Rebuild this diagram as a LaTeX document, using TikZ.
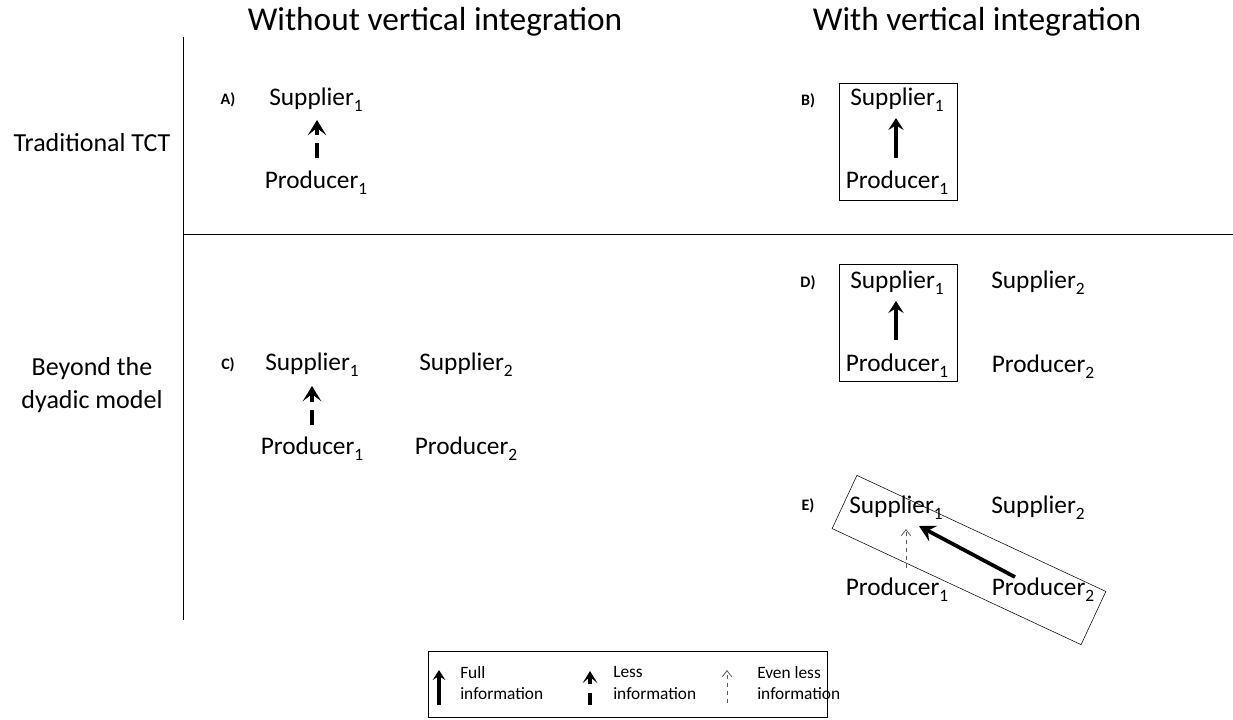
\documentclass[tikz,border=0pt]{standalone}
\usepackage{fontspec}
\setmainfont{Carlito}
\usetikzlibrary{arrows.meta,calc}
\newcommand{\sub}[1]{\raisebox{-4.5pt}{\fontsize{13}{13}\selectfont #1}}

\tikzset{
  lbl/.style={font=\fontsize{19}{23}\selectfont,inner sep=0pt},
  head/.style={font=\fontsize{25}{29}\selectfont,inner sep=0pt},
  side/.style={font=\fontsize{19.5}{25}\selectfont,inner sep=0pt,align=center},
  tag/.style={font=\bfseries\fontsize{12}{14}\selectfont,inner sep=0pt},
  leg/.style={font=\fontsize{13}{16}\selectfont,inner sep=0pt,align=left,anchor=west},
  full/.style={line width=2.4pt,-{Stealth[length=9pt,width=11.5pt,inset=3.5pt]}},
  less/.style={line width=3.2pt,dash pattern=on 11.25pt off 6pt,-{Stealth[length=11.5pt,width=14pt,inset=5.5pt]}},
  evenless/.style={line width=0.6pt,dashed,gray!70!black,-{Straight Barb[length=4.5pt,width=7pt,line width=0.6pt]}},
  strong/.style={line width=2.8pt,-{Stealth[length=12pt,width=13pt,inset=4.5pt]}},
}

\begin{document}
\begin{tikzpicture}[x=0.75pt,y=-0.75pt]
  \useasboundingbox (0,0) rectangle (1233,719);

  % column and row headings
  \node[head] (without) at (435,22) {Without vertical integration};
  \node[head] (with) at (977,22) {With vertical integration};
  \node[side] (tct) at (92,143) {Traditional TCT};
  \node[side] (dyadic) at (92,385) {Beyond the\\dyadic model};
  \draw (183,37) -- (183,620);
  \draw (183,234) -- (1233,234);

  % A) market exchange
  \node[tag] (tagA) at (228,100) {A)};
  \node[lbl] (as1) at (316,100) {Supplier\sub{1}};
  \node[lbl] (ap1) at (316,183) {Producer\sub{1}};
  \draw[less] ($(ap1.center)+(1,-25)$) -- ($(as1.center)+(1,20)$);

  % B) integrated dyad
  \node[tag] (tagB) at (808,101) {B)};
  \node[lbl] (bs1) at (897,100) {Supplier\sub{1}};
  \node[lbl] (bp1) at (897,183) {Producer\sub{1}};
  \draw[full] ($(bp1.center)+(-1,-25)$) -- ($(bs1.center)+(-1,18)$);
  \draw (839,83) rectangle (957,200);

  % C) two dyads, no integration
  \node[tag] (tagC) at (228,365) {C)};
  \node[lbl] (cs1) at (312,365) {Supplier\sub{1}};
  \node[lbl] (cp1) at (312,449) {Producer\sub{1}};
  \node[lbl] (cs2) at (466,365) {Supplier\sub{2}};
  \node[lbl] (cp2) at (466,449) {Producer\sub{2}};
  \draw[less] ($(cp1.center)+(0,-24)$) -- ($(cs1.center)+(0,21)$);

  % D) one integrated dyad next to a market dyad
  \node[tag] (tagD) at (808,283) {D)};
  \node[lbl] (ds1) at (897,283) {Supplier\sub{1}};
  \node[lbl] (dp1) at (897,366) {Producer\sub{1}};
  \node[lbl] (ds2) at (1038,283) {Supplier\sub{2}};
  \node[lbl] (dp2) at (1043,367) {Producer\sub{2}};
  \draw[full] ($(dp1.center)+(-1,-26)$) -- ($(ds1.center)+(-1,18)$);
  \draw (839,264) rectangle (957,381);

  % E) cross integration
  \node[tag] (tagE) at (808,506) {E)};
  \node[lbl] (es1) at (896,508) {Supplier\sub{1}};
  \node[lbl] (ep1) at (897,590) {Producer\sub{1}};
  \node[lbl] (es2) at (1038,508) {Supplier\sub{2}};
  \node[lbl] (ep2) at (1043,590) {Producer\sub{2}};
  \draw[evenless] ($(ep1.center)+(9,-22)$) -- ($(es1.center)+(10,21)$);
  \draw[strong] ($(ep2.center)+(-28,-13)$) -- ($(es1.center)+(23,18)$);
  \node[draw,rotate=-25,minimum width=206pt,minimum height=44pt,inner sep=0pt] (firm) at (969,560) {};

  % legend
  \node[draw,minimum width=299pt,minimum height=49.5pt,inner sep=0pt] (legend) at (627.5,684) {};
  \coordinate (f0) at (439,705);
  \coordinate (f1) at (439,670);
  \draw[full,-{Stealth[length=7.5pt,width=9.5pt,inset=3pt]}] (f0) -- (f1);
  \node[leg] (fulltxt) at (460,683) {Full\\information};
  \coordinate (l0) at (590,705);
  \coordinate (l1) at (590,671);
  \draw[less,dash pattern=on 9pt off 7pt,-{Stealth[length=9pt,width=11pt,inset=4.5pt]}] (l0) -- (l1);
  \node[leg] (lesstxt) at (613,683) {Less\\information};
  \coordinate (e0) at (727,703);
  \coordinate (e1) at (727,670);
  \draw[evenless] (e0) -- (e1);
  \node[leg] (evenlesstxt) at (757,683) {Even less\\information};
\end{tikzpicture}
\end{document}
